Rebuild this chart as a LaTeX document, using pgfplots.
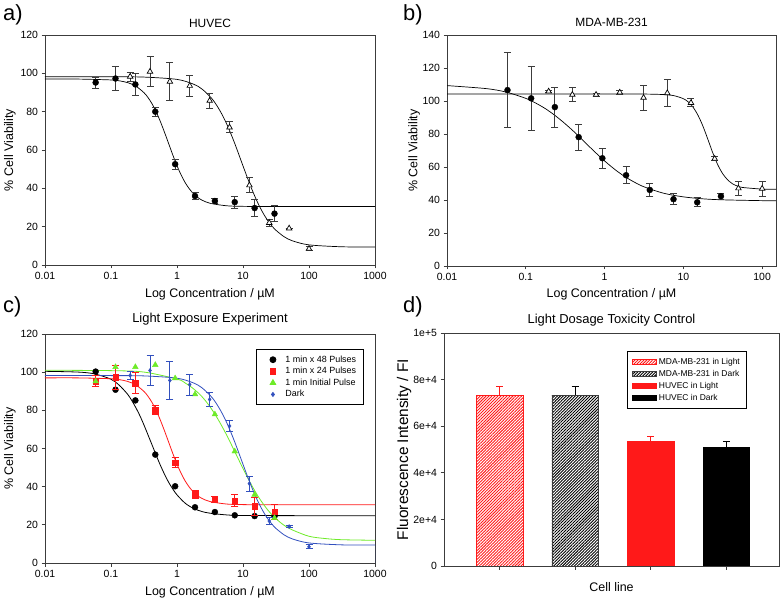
\documentclass[border=0pt]{standalone}
\usepackage{fontspec}
\setmainfont{Liberation Sans}
\usepackage{pgfplots}
\pgfplotsset{compat=1.18}
\usetikzlibrary{patterns.meta}

\definecolor{cred}{RGB}{255,25,25}
\definecolor{cgreen}{RGB}{110,235,40}
\definecolor{cblue}{RGB}{50,80,190}
\definecolor{axgray}{RGB}{60,60,60}

\pgfplotsset{
 myaxis/.style={
  scale only axis,
  tick align=outside,
  xtick pos=bottom, ytick pos=left,
  major tick length=3.5bp,
  /pgf/number format/assume math mode=true,
  ticklabel style={font=\fontsize{10.5}{12}\selectfont},
  label style={font=\fontsize{12.5}{14}\selectfont},
  axis line style={axgray, line width=0.8bp},
  tick style={axgray, line width=0.8bp},
  xlabel style={at={(axis description cs:0.5,0)}, anchor=center, yshift=-29bp},
  clip mode=individual,
 },
 ebar/.style={error bars/.cd, y dir=both, y explicit,
   error bar style={#1, line width=0.9bp},
   error mark options={rotate=90, #1, mark size=3.5bp, line width=0.9bp}},
 ebarplus/.style={error bars/.cd, y dir=plus, y explicit,
   error bar style={#1, line width=1bp},
   error mark options={rotate=90, #1, mark size=3.5bp, line width=1bp}},
}

\begin{document}
\begin{tikzpicture}
\useasboundingbox (0,0) rectangle (782bp,600bp);

% ---------------- a) HUVEC ----------------
\begin{axis}[myaxis, xmode=log, xminorticks=false, at={(45bp,335bp)}, anchor=south west,
  width=330bp, height=230bp,
  xmin=0.01, xmax=1000, ymin=0, ymax=120,
  xtick={0.01,0.1,1,10,100,1000}, xticklabels={0.01,0.1,1,10,100,1000},
  ytick={0,20,...,120},
  title={HUVEC},
  title style={font=\fontsize{12}{14}\selectfont, at={(0.5,1)}, anchor=center, yshift=6bp},
  xlabel={Log Concentration / µM},
  ylabel={\% Cell Viability},
  ylabel style={at={(axis description cs:-0.106,0.5)}, anchor=center},
]
\addplot[black, line width=0.7bp, smooth] coordinates {(0.01,97.0) (0.0316,97.0) (0.1,96.55) (0.133,96.1) (0.178,95.17) (0.237,93.35) (0.316,89.9) (0.365,87.3) (0.422,83.9) (0.487,79.7) (0.562,74.7) (0.649,69.1) (0.75,63.2) (0.866,57.3) (1,51.8) (1.155,47.0) (1.334,42.9) (1.54,39.7) (1.778,37.2) (2.054,35.3) (2.371,33.9) (3.162,32.2) (5.623,30.9) (10,30.6) (31.6,30.5) (1000,30.5)};
\addplot[black, line width=0.7bp, smooth] coordinates {(0.01,98.2) (0.1,98.2) (0.316,98.04) (1,96.84) (1.778,94.36) (2.371,91.9) (3.162,87.9) (3.652,85.3) (4.217,82.0) (4.87,78.2) (5.623,73.8) (6.494,68.8) (7.499,63.4) (8.66,57.6) (10,51.7) (11.55,45.9) (13.34,40.3) (15.4,35.2) (17.78,30.6) (20.54,26.6) (23.71,23.2) (27.4,20.4) (31.62,18.1) (42.17,14.7) (56.23,12.6) (100,10.5) (316,9.5) (1000,9.4)};
\addplot[only marks, mark=*, mark size=3, black, ebar=axgray] coordinates {
 (0.0586,95.2) +- (0,2.9) (0.117,97.3) +- (0,6.3) (0.234,94.2) +- (0,5.5) (0.469,80.0) +- (0,2.3)
 (0.9375,52.6) +- (0,2.6) (1.875,36.0) +- (0,2) (3.75,33.4) +- (0,1.5) (7.5,32.8) +- (0,3.2)
 (15,29.7) +- (0,4.6) (30,26.8) +- (0,4.1)};
\addplot[only marks, mark=triangle*, mark size=3.2, mark options={fill=white, draw=black, line width=0.7bp}, ebar=axgray] coordinates {
 (0.195,98.3) +- (0,2.3) (0.39,100.9) +- (0,7.8) (0.78,95.7) +- (0,9.9) (1.56,93.5) +- (0,5.5)
 (3.125,85.7) +- (0,3.9) (6.25,71.8) +- (0,2.9) (12.5,41.6) +- (0,3.9) (25,22.0) +- (0,1.9)
 (50,19.1) +- (0,0) (100,8.5) +- (0,1)};
\end{axis}

% ---------------- b) MDA-MB-231 ----------------
\begin{axis}[myaxis, xmode=log, xminorticks=false, at={(447bp,334bp)}, anchor=south west,
  width=329bp, height=231bp,
  xmin=0.01, xmax=150, ymin=0, ymax=140,
  xtick={0.01,0.1,1,10,100}, xticklabels={0.01,0.1,1,10,100},
  ytick={0,20,...,140},
  title={MDA-MB-231},
  title style={font=\fontsize{12}{14}\selectfont, at={(0.5,1)}, anchor=center, yshift=7bp},
  xlabel={Log Concentration / µM},
  xlabel style={yshift=1bp},
  ylabel={\% Cell Viability},
  ylabel style={at={(axis description cs:-0.100,0.5)}, anchor=center},
]
\addplot[black, line width=0.7bp, smooth] coordinates {(0.01,109.33) (0.0316,107.5) (0.0562,105.4) (0.1,101.6) (0.133,98.8) (0.178,95.3) (0.237,91.1) (0.316,86.2) (0.422,80.8) (0.562,75.0) (0.75,69.2) (1,63.7) (1.334,58.7) (1.778,54.4) (2.371,50.9) (3.162,48.0) (5.623,44.1) (10,41.9) (17.78,40.7) (31.6,40.1) (100,39.6) (150,39.5)};
\addplot[black, line width=0.7bp, smooth] coordinates {(0.01,104.2) (1,104.2) (3.162,104.2) (5.623,103.9) (7.5,103.3) (10,101.4) (11.55,99.4) (13.34,96.1) (15.4,91.2) (17.78,84.6) (20.54,76.6) (23.71,68.4) (27.38,61.3) (31.62,55.9) (36.5,52.2) (42.17,49.8) (48.7,48.4) (56.23,47.6) (100,46.6) (150,46.5)};
\addplot[only marks, mark=*, mark size=3, black, ebar=axgray] coordinates {
 (0.0586,106.6) +- (0,22.8) (0.117,101.6) +- (0,19.4) (0.234,96.3) +- (0,12.1) (0.469,78.1) +- (0,7.8)
 (0.9375,65.3) +- (0,6.1) (1.875,55.0) +- (0,5.1) (3.75,46.1) +- (0,3.8) (7.5,40.5) +- (0,3.4)
 (15,38.6) +- (0,2.7) (30,42.3) +- (0,1.8)};
\addplot[only marks, mark=triangle*, mark size=3.2, mark options={fill=white, draw=black, line width=0.7bp}, ebar=axgray] coordinates {
 (0.195,105.8) +- (0,0.8) (0.39,103.8) +- (0,4.2) (0.78,103.8) +- (0,1) (1.56,105.2) +- (0,1.4)
 (3.125,102.0) +- (0,7.5) (6.25,104.8) +- (0,8.0) (12.5,98.9) +- (0,2.5) (25,65.0) +- (0,1.2)
 (50,47.1) +- (0,4.2) (100,46.9) +- (0,4.6)};
\end{axis}

% ---------------- c) Light Exposure Experiment ----------------
\begin{axis}[myaxis, xmode=log, xminorticks=false, at={(45bp,37bp)}, anchor=south west,
  width=330bp, height=229bp,
  xmin=0.01, xmax=1000, ymin=0, ymax=120,
  xtick={0.01,0.1,1,10,100,1000}, xticklabels={0.01,0.1,1,10,100,1000},
  ytick={0,20,...,120},
  title={Light Exposure Experiment},
  title style={font=\fontsize{13}{15}\selectfont, at={(0.5,1)}, anchor=center, yshift=9bp},
  xlabel={Log Concentration / µM},
  ylabel={\% Cell Viability},
  ylabel style={at={(axis description cs:-0.106,0.5)}, anchor=center},
  legend style={at={(0.967,0.934)}, anchor=north east, draw=black, line width=0.8bp,
    font=\fontsize{9}{10}\selectfont, inner xsep=6bp, inner ysep=5bp,
    nodes={inner ysep=1.2bp, inner xsep=1.5bp}, row sep=1.2bp},
  legend cell align=left,
  legend image code/.code={\path[draw=none,fill=none] (0bp,0bp) -- (22bp,0bp); \draw[mark repeat=2,mark phase=2,#1] plot coordinates {(0bp,0bp) (11bp,0bp) (22bp,0bp)};},
]
\addplot[cblue, line width=1bp, forget plot] coordinates {(0.01,0) (1000,0) (1000,9.4)};
\addplot[black, line width=0.8bp, smooth, forget plot] coordinates {(0.01,100.45) (0.0316,100.05) (0.0562,99.1) (0.1,96.3) (0.133,93.2) (0.178,88.5) (0.205,85.3) (0.237,81.5) (0.274,77.2) (0.316,72.3) (0.365,67.0) (0.422,61.6) (0.487,56.2) (0.562,51.1) (0.649,46.4) (0.75,42.2) (0.866,38.7) (1,35.7) (1.334,31.3) (1.778,28.6) (2.371,27.0) (3.162,26.1) (5.623,25.2) (10,24.9) (100,24.8) (1000,24.8)};
\addplot[cred, line width=0.8bp, smooth, forget plot] coordinates {(0.01,97.0) (0.0316,97.0) (0.1,96.55) (0.133,96.1) (0.178,95.17) (0.237,93.35) (0.316,89.9) (0.365,87.3) (0.422,83.9) (0.487,79.7) (0.562,74.7) (0.649,69.1) (0.75,63.2) (0.866,57.3) (1,51.8) (1.155,47.0) (1.334,42.9) (1.54,39.7) (1.778,37.2) (2.054,35.3) (2.371,33.9) (3.162,32.2) (5.623,30.9) (10,30.6) (31.6,30.5) (1000,30.5)};
\addplot[cgreen, line width=0.8bp, smooth, forget plot] coordinates {(0.01,101.0) (0.1,100.8) (0.316,100.05) (1,96.4) (1.334,94.3) (1.778,91.3) (2.371,87.3) (3.162,81.9) (4.217,75.1) (5.623,67.2) (7.499,58.4) (10,49.5) (13.34,41.1) (17.78,33.8) (23.71,27.8) (31.62,23.2) (42.17,19.7) (56.23,17.3) (100,14.0) (177.8,12.8) (316,12.2) (1000,11.9)};
\addplot[cblue, line width=0.8bp, smooth, forget plot] coordinates {(0.01,98.2) (0.1,98.2) (0.316,98.04) (1,96.84) (1.778,94.36) (2.371,91.9) (3.162,87.9) (3.652,85.3) (4.217,82.0) (4.87,78.2) (5.623,73.8) (6.494,68.8) (7.499,63.4) (8.66,57.6) (10,51.7) (11.55,45.9) (13.34,40.3) (15.4,35.2) (17.78,30.6) (20.54,26.6) (23.71,23.2) (27.4,20.4) (31.62,18.1) (42.17,14.7) (56.23,12.6) (100,10.5) (316,9.5) (1000,9.4)};

\addplot[only marks, mark=*, mark size=3, black] coordinates {
 (0.0586,100.3) (0.117,90.8) (0.234,85.2) (0.469,56.8) (0.9375,40.2) (1.875,29.2) (3.75,26.7) (7.5,25.0) (15,24.6) (30,24.5)};
\addlegendentry{1 min x 48 Pulses}
\addplot[only marks, mark=square*, mark size=2.7, cred, ebar=cred] coordinates {
 (0.0586,95.2) +- (0,2.9) (0.117,97.3) +- (0,6.3) (0.234,94.2) +- (0,5.5) (0.469,80.0) +- (0,2.3)
 (0.9375,52.6) +- (0,2.6) (1.875,36.0) +- (0,2) (3.75,33.4) +- (0,1.5) (7.5,32.8) +- (0,3.2)
 (15,29.7) +- (0,4.6) (30,26.8) +- (0,4.1)};
\addlegendentry{1 min x 24 Pulses}
\addplot[only marks, mark=triangle*, mark size=3.3, cgreen] coordinates {
 (0.0586,95.2) (0.117,102.7) (0.234,102.7) (0.469,103.8) (0.9375,96.8) (1.875,88.4) (3.75,77.9) (7.5,58.5) (15,35.8) (30,23.6)};
\addlegendentry{1 min Initial Pulse}
\addplot[only marks, mark=diamond*, mark size=2, cblue, ebar=cblue] coordinates {
 (0.195,98.3) +- (0,2.3) (0.39,100.9) +- (0,7.8) (0.78,95.7) +- (0,9.9) (1.56,93.5) +- (0,5.5)
 (3.125,85.7) +- (0,3.9) (6.25,71.8) +- (0,2.9) (12.5,41.6) +- (0,3.9) (25,22.0) +- (0,1.9)
 (50,19.1) +- (0,0.5) (100,8.5) +- (0,1)};
\addlegendentry{Dark}
\end{axis}

% ---------------- d) Light Dosage Toxicity Control ----------------
\begin{axis}[myaxis, at={(444bp,34bp)}, anchor=south west,
  width=335bp, height=233bp,
  xmin=0.264, xmax=4.696, ymin=0, ymax=100000,
  xtick={1,2,3,4}, xticklabels={},
  ytick={0,20000,40000,60000,80000,100000},
  yticklabels={0,2e+4,4e+4,6e+4,8e+4,1e+5},
  scaled y ticks=false,
  ybar, bar width=0.617, bar shift=0pt,
  title={Light Dosage Toxicity Control},
  title style={font=\fontsize{13}{15}\selectfont, at={(0.5,1)}, anchor=center, yshift=7bp},
  xlabel={Cell line},
  xlabel style={yshift=8bp},
  ylabel={Fluorescence Intensity / FI},
  ylabel style={at={(axis description cs:-0.119,0.5)}, anchor=center, font=\fontsize{15.5}{17}\selectfont},
  legend style={at={(0.546,0.923)}, anchor=north west, draw=black, line width=0.8bp,
    font=\fontsize{8.5}{10}\selectfont, inner xsep=5bp, inner ysep=5.5bp,
    nodes={inner ysep=1.2bp, inner xsep=1.8bp}, row sep=2bp},
  legend cell align=left,
  legend image code/.code={\draw[#1] (0bp,-2.8bp) rectangle (24bp,2.8bp);},
]
\addplot[draw=cred, line width=0.8bp, pattern={Lines[angle=45,distance=2.1bp,line width=0.9bp]}, pattern color=cred]
  coordinates {(1,73200)};
\addlegendentry{MDA-MB-231 in Light}
\addplot[draw=axgray, line width=0.8bp, pattern={Lines[angle=45,distance=2.1bp,line width=0.9bp]}, pattern color=black]
  coordinates {(2,73200)};
\addlegendentry{MDA-MB-231 in Dark}
\addplot[draw=cred, fill=cred, line width=0.8bp]
  coordinates {(3,53500)};
\addlegendentry{HUVEC in Light}
\addplot[draw=black, fill=black, line width=0.8bp]
  coordinates {(4,51100)};
\addlegendentry{HUVEC in Dark}
% error bars (invisible bars carrying the error bars)
\addplot[forget plot, draw=none, fill=none, ebarplus=cred] coordinates {(1,73200) +- (0,3800) (3,53500) +- (0,1900)};
\addplot[forget plot, draw=none, fill=none, ebarplus=black] coordinates {(2,73200) +- (0,3800) (4,51100) +- (0,2400)};
\end{axis}

% panel letters
\node[anchor=base west, inner sep=0, font=\fontsize{22}{24}\selectfont] at (3bp,579bp) {a)};
\node[anchor=base west, inner sep=0, font=\fontsize{22}{24}\selectfont] at (403bp,579bp) {b)};
\node[anchor=base west, inner sep=0, font=\fontsize{22}{24}\selectfont] at (3bp,287bp) {c)};
\node[anchor=base west, inner sep=0, font=\fontsize{22}{24}\selectfont] at (403bp,287bp) {d)};
\end{tikzpicture}
\end{document}
